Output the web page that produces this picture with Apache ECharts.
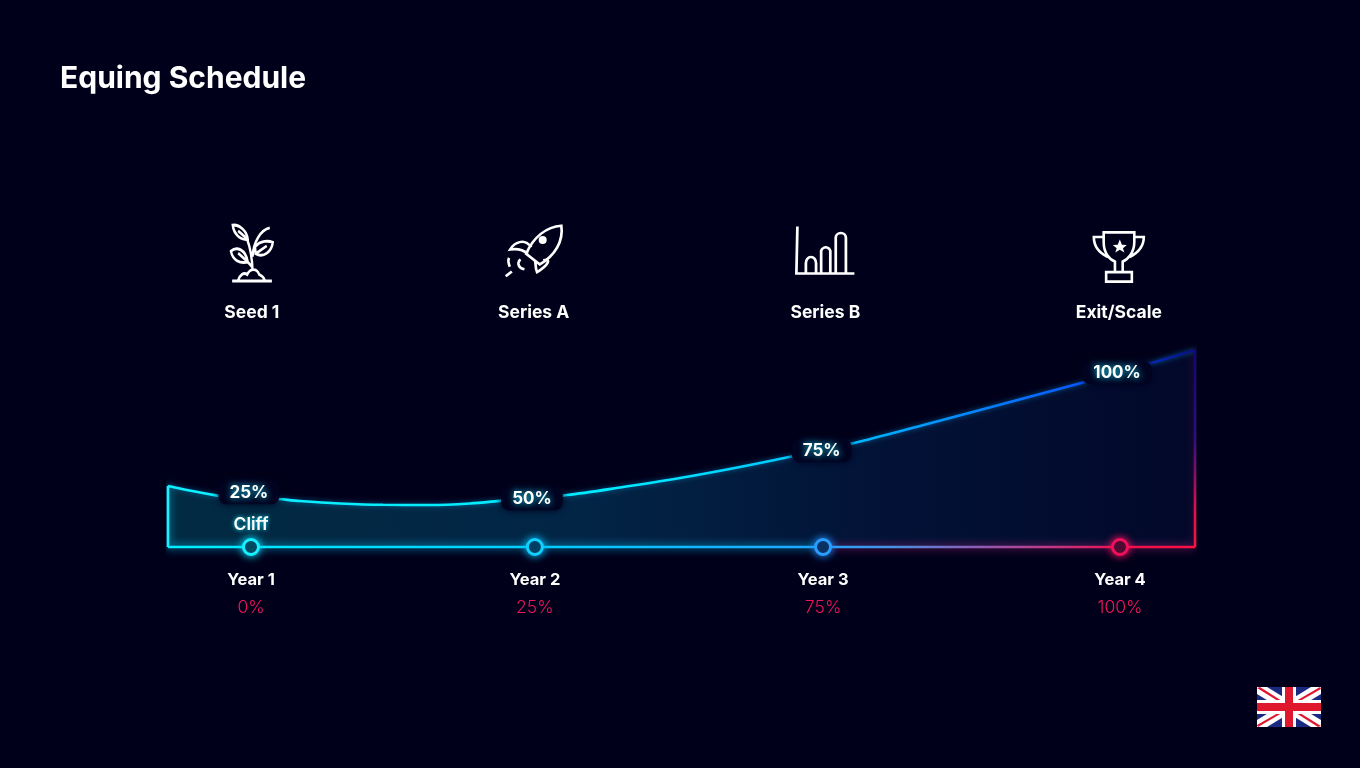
<!DOCTYPE html>
<html><head><meta charset="utf-8">
<style>html,body{margin:0;padding:0;background:#00001a}#c{width:1360px;height:768px}</style>
<script src="https://cdn.jsdelivr.net/npm/echarts@6/dist/echarts.min.js"></script>
</head><body><div id="c"></div>
<script>
const titleText = 'Equing Schedule';
const years = ['Year 1','Year 2','Year 3','Year 4'];
const yearX = [1, 1.98, 2.975, 4];
const vestedPct = ['0%','25%','75%','100%'];
const milestones = ['Seed 1','Series A','Series B','Exit/Scale'];
const milestoneX = [1.003, 1.976, 2.983, 3.996];
const curveX = [0.7135,0.914,1.072,1.169,1.307,1.456,1.618,1.756,1.866,2.091,2.274,2.481,2.688,2.857,3.082,3.309,3.517,3.724,3.879,4.097,4.259];
const curveY = [34.9,28.7,27.7,26.3,24.9,24.1,24.0,24.9,26.5,29.7,34.0,39.4,45.7,51.4,59.4,69.1,78.3,87.4,94.3,104.6,112.6];
const labelX = [0.993,1.97,2.97,3.99];
const labelY = [31,27.5,55,99.5];
const labelText = ['25%','50%','75%','100%'];
const cliffPoint = [1,13];
const cliffText = 'Cliff';
const xMin = curveX[0], xMax = curveX[curveX.length-1];
const FONT = 'Inter';
const BG = '#00001a';
const grad = (h, stops) => new echarts.graphic.LinearGradient(0,0,h?1:0,h?0:1,stops.map(s=>({offset:s[0],color:s[1]})));

const seedIcon = 'path://M90 208L222 208M110 206C115 192 128 182 140 190C150 172 172 172 180 190C190 194 196 200 198 206M92 52C115 50 140 70 142 92C115 95 95 75 92 52ZM110 68L142 92M86 125C105 110 135 120 142 155C115 160 92 150 86 125ZM142 155L110 130M166 112C185 95 210 95 225 100C222 125 195 145 168 132ZM168 132L205 110M140 92C150 115 156 135 158 180M158 140C160 100 185 65 215 60M158 170L142 155';
const rocketIcon = 'path://M1083 48C1040 50 1000 85 980 135L1020 168C1065 140 1090 95 1083 48ZM995 115C975 85 945 100 933 122C955 118 970 122 985 135M1030 155C1055 150 1045 170 1012 192C1005 175 1010 165 1005 155M963 152C952 165 958 180 975 183M930 148C926 155 928 165 932 175M938 190L920 205';
const chartIcon = 'path://M85 42L82 193L253 193M110 190L110 160A15 20 0 0 1 140 160L140 190M155 190L155 120A14 15 0 0 1 182 120L182 190M198 190L198 78A15 15 0 0 1 228 78L228 190';
const trophyIcon = 'path://M1008 72L1095 72L1095 100C1095 130 1075 150 1062 155L1062 185L1040 185L1040 155C1025 150 1008 130 1008 100ZM1008 85L980 85C980 110 995 130 1020 142M1095 85L1122 85C1122 110 1105 130 1082 142M1015 185L1088 185L1088 212L1015 212Z';
const starFill = 'path://M1050 88L1056 103L1070 104L1059 113L1063 125L1050 117L1037 125L1041 113L1030 104L1044 103Z';
const circleFill = 'circle';

const edgeLine = (data, color, glow, width) => ({
  type:'line', data, showSymbol:false, symbol:'none', clip:false, silent:true, z:4,
  lineStyle:{color, width:width||2.6, shadowBlur:9, shadowColor:glow}
});
const flagW=64, flagH=40;
const flag = {type:'group', left:1257, top:687, children:[
  {type:'rect',shape:{x:0,y:0,width:flagW,height:flagH},style:{fill:'#1a2a80'}},
  {type:'polygon',shape:{points:[[0,0],[10,0],[flagW,33],[flagW,flagH],[54,flagH],[0,7]]},style:{fill:'#fff'}},
  {type:'polygon',shape:{points:[[flagW,0],[54,0],[0,33],[0,flagH],[10,flagH],[flagW,7]]},style:{fill:'#fff'}},
  {type:'polygon',shape:{points:[[0,1],[3,0],[25,14],[21,14]]},style:{fill:'#e0182d'}},
  {type:'polygon',shape:{points:[[flagW,39],[61,flagH],[39,26],[43,26]]},style:{fill:'#e0182d'}},
  {type:'polygon',shape:{points:[[flagW-1,0],[flagW,2],[43,14],[39,14]]},style:{fill:'#e0182d'}},
  {type:'polygon',shape:{points:[[1,flagH],[0,38],[21,26],[25,26]]},style:{fill:'#e0182d'}},
  {type:'rect',shape:{x:0,y:13,width:flagW,height:14},style:{fill:'#fff'}},
  {type:'rect',shape:{x:25,y:0,width:14,height:flagH},style:{fill:'#fff'}},
  {type:'rect',shape:{x:0,y:16,width:flagW,height:8},style:{fill:'#e0182d'}},
  {type:'rect',shape:{x:28,y:0,width:8,height:flagH},style:{fill:'#e0182d'}}
]};

const chart = echarts.init(document.getElementById('c'));
chart.setOption({
  backgroundColor: BG,
  animation:false,
  textStyle:{fontFamily:FONT},
  title:{text:titleText,left:55,top:59,textStyle:{color:'#fff',fontFamily:FONT,fontSize:30,fontWeight:700}},
  graphic:[flag],
  grid:[
    {left:168,width:1027,top:337,height:210},
    {left:168,width:1027,top:222,height:62}
  ],
  xAxis:[
    {type:'value',gridIndex:0,min:xMin,max:xMax,splitLine:{show:false},axisLine:{show:false},axisTick:{show:false},
     axisLabel:{show:true,customValues:yearX,margin:20,hideOverlap:false,showMinLabel:true,showMaxLabel:true,
       formatter:v=>{const i=yearX.findIndex(a=>Math.abs(a-v)<1e-6);return i<0?'':`{y|${years[i]}}\n{p|${vestedPct[i]}}`;},
       rich:{y:{color:'#fff',fontFamily:FONT,fontSize:16.5,fontWeight:700,lineHeight:27,align:'center'},
             p:{color:'#f0145a',fontFamily:FONT,fontSize:17.5,fontWeight:300,lineHeight:27,align:'center'}}}},
    {type:'value',gridIndex:1,min:xMin,max:xMax,splitLine:{show:false},axisLine:{show:false},axisTick:{show:false},
     axisLabel:{show:true,customValues:milestoneX,margin:20,color:'#fff',fontFamily:FONT,fontSize:17.5,fontWeight:700,
       formatter:v=>{const i=milestoneX.findIndex(a=>Math.abs(a-v)<1e-6);return i<0?'':milestones[i];}}}
  ],
  yAxis:[
    {type:'value',gridIndex:0,min:0,max:120,show:false},
    {type:'value',gridIndex:1,min:0,max:1,show:false}
  ],
  series:[
    {type:'line',name:'Vesting',data:curveX.map((x,i)=>[x,curveY[i]]),smooth:0.3,symbol:'none',showSymbol:false,clip:false,z:3,
     lineStyle:{width:2.6,shadowBlur:5,shadowColor:'rgba(0,180,255,0.5)',
       color:grad(true,[[0,'#0ff0ff'],[0.45,'#00eaff'],[0.66,'#00bcff'],[0.89,'#0a55ff'],[0.95,'#0a2cc0'],[1,'#0a0a7a']])},
     areaStyle:{opacity:1,shadowBlur:0,color:grad(true,[[0,'#022a42'],[0.4,'#022546'],[0.7,'#021236'],[1,'#02082a']])}},
    edgeLine([[xMin,0],[xMin,curveY[0]]],'#1ff0ff','rgba(0,220,255,0.9)'),
    edgeLine([[xMax,0],[xMax,curveY[curveY.length-1]]],grad(false,[[0,'#0a0a70'],[0.45,'#2a1080'],[0.8,'#e0104f'],[1,'#ff1040']]),'rgba(200,10,80,0.35)'),
    edgeLine([[xMin,0],[yearX[2],0]],grad(true,[[0,'#00f0ff'],[0.55,'#00d0ff'],[1,'#22a5ff']]),'rgba(0,200,255,1)'),
    edgeLine([[yearX[2],0],[xMax,0]],grad(true,[[0,'#22a5ff'],[0.2,'#4a90e0'],[0.4,'#8a60b8'],[0.6,'#c03a88'],[0.8,'#f0104f'],[1,'#ff1040']]),'rgba(190,40,140,0.9)'),
    {type:'scatter',name:'Years',data:yearX.map((x,i)=>({value:[x,0],itemStyle:{borderColor:['#16f0ff','#12cfff','#2a9dff','#f0105a'][i],shadowColor:['#00e0ff','#00c0ff','#2090ff','#ff1060'][i]}})),
     symbolSize:15,clip:false,z:6,silent:true,itemStyle:{opacity:1,color:'#020a20',borderWidth:3,shadowBlur:9}},
    {type:'scatter',name:'Pct',data:labelX.map((x,i)=>[x,labelY[i]]),symbolSize:1,clip:false,z:7,silent:true,itemStyle:{opacity:1,color:'transparent'},
     label:{show:true,position:'inside',formatter:p=>labelText[p.dataIndex],color:'#fff',fontFamily:FONT,fontSize:17,fontWeight:700,
       backgroundColor:'#010320',padding:[3,11],borderRadius:8,shadowColor:'#010320',shadowBlur:7,textShadowColor:'#19e4ff',textShadowBlur:7}},
    {type:'scatter',name:'Cliff',data:[cliffPoint],symbolSize:1,clip:false,z:7,silent:true,itemStyle:{opacity:1,color:'transparent'},
     label:{show:true,position:'inside',formatter:cliffText,color:'#fff',fontFamily:FONT,fontSize:17.5,fontWeight:600,textShadowColor:'#19e4ff',textShadowBlur:4}},
    {type:'scatter',name:'Icons',xAxisIndex:1,yAxisIndex:1,symbolKeepAspect:true,clip:false,silent:true,
     itemStyle:{opacity:1,color:'transparent',borderColor:'#fff',borderWidth:2.6},
     data:[
       {value:[milestoneX[0],0.5],symbol:seedIcon,symbolSize:[47,56]},
       {value:[milestoneX[1],0.5],symbol:rocketIcon,symbolSize:[56,53],symbolOffset:[0,-2]},
       {value:[milestoneX[2],0.5],symbol:chartIcon,symbolSize:[58,53],symbolOffset:[0,-3]},
       {value:[milestoneX[3],0.5],symbol:trophyIcon,symbolSize:[50,50],symbolOffset:[0,4]}
     ]},
    {type:'scatter',name:'IconFill',xAxisIndex:1,yAxisIndex:1,clip:false,silent:true,itemStyle:{opacity:1,color:'#fff'},
     data:[
       {value:[milestoneX[1],0.5],symbol:circleFill,symbolSize:8,symbolOffset:[9,-13]},
       {value:[milestoneX[3],0.5],symbol:starFill,symbolSize:[14,13],symbolOffset:[1,-7]}
     ]}
  ]
});
</script></body></html>
